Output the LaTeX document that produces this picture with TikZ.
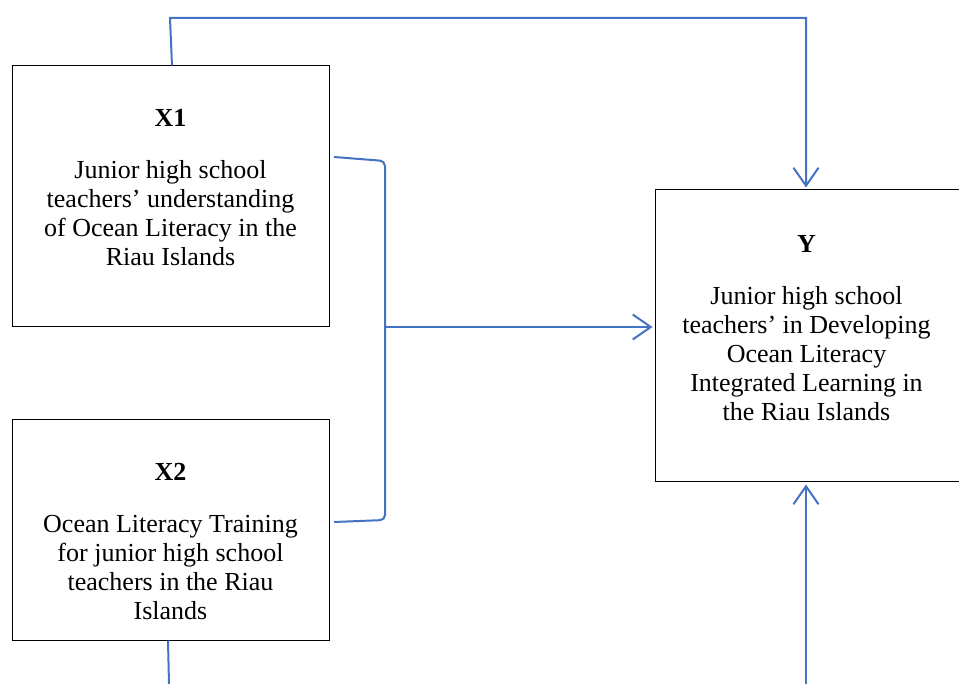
\documentclass[tikz,border=0pt]{standalone}
\usepackage{fontspec}
\setmainfont{Liberation Serif}
\usetikzlibrary{arrows.meta}
\definecolor{linkblue}{RGB}{68,114,196}
\begin{document}
\begin{tikzpicture}[x=1pt,y=-1pt,
  box/.style = {draw,inner sep=0pt,line width=1pt,minimum width=317pt},
  txt/.style = {align=center,inner sep=0pt,anchor=north,font=\fontsize{26}{29}\selectfont},
  link/.style = {draw=linkblue,line width=2pt},
  arr/.style = {link,shorten >=2pt,-{Straight Barb[length=18pt,width=25pt,line width=2pt]}}]
\useasboundingbox (0,0) rectangle (959,684);
\node[box,minimum height=261pt] (x1box) at (170.5,196.5) {};
\node[box,minimum height=220pt] (x2box) at (170.5,530) {};
\node[box,minimum height=292pt,minimum width=312pt] (ybox) at (811,336) {};
\node[txt] (x1text) at (170.5,109) {\textbf{X1}\\[23pt]Junior high school\\teachers’ understanding\\of Ocean Literacy in the\\Riau Islands};
\node[txt] (x2text) at (170.5,463) {\textbf{X2}\\[23pt]Ocean Literacy Training\\for junior high school\\teachers in the Riau\\Islands};
\node[txt] (ytext) at (806.5,235) {\textbf{Y}\\[23pt]Junior high school\\teachers’ in Developing\\Ocean Literacy\\Integrated Learning in\\the Riau Islands};
% bracket joining X1 and X2
\coordinate (btop) at (334,157);
\coordinate (bcorner1) at (385,161);
\coordinate (bmid) at (385,327);
\coordinate (bcorner2) at (385,520);
\coordinate (bbot) at (334,522);
\draw[link,rounded corners=5pt] (btop) -- (bcorner1) -- (bcorner2) -- (bbot);
\draw[arr] (bmid) -- (ybox.west |- bmid);
% line over the top
\coordinate (topl) at (170,18);
\coordinate (topr) at (806,18);
\draw[arr] ([xshift=1.5pt]x1box.north) -- (topl) -- (topr) -- (topr |- ybox.north);
% lines at the bottom
\coordinate (botl) at (169,684);
\coordinate (botr) at (806,684);
\draw[link] ([xshift=-2.5pt]x2box.south) -- (botl);
\draw[arr] (botr) -- (botr |- ybox.south);
\end{tikzpicture}
\end{document}
